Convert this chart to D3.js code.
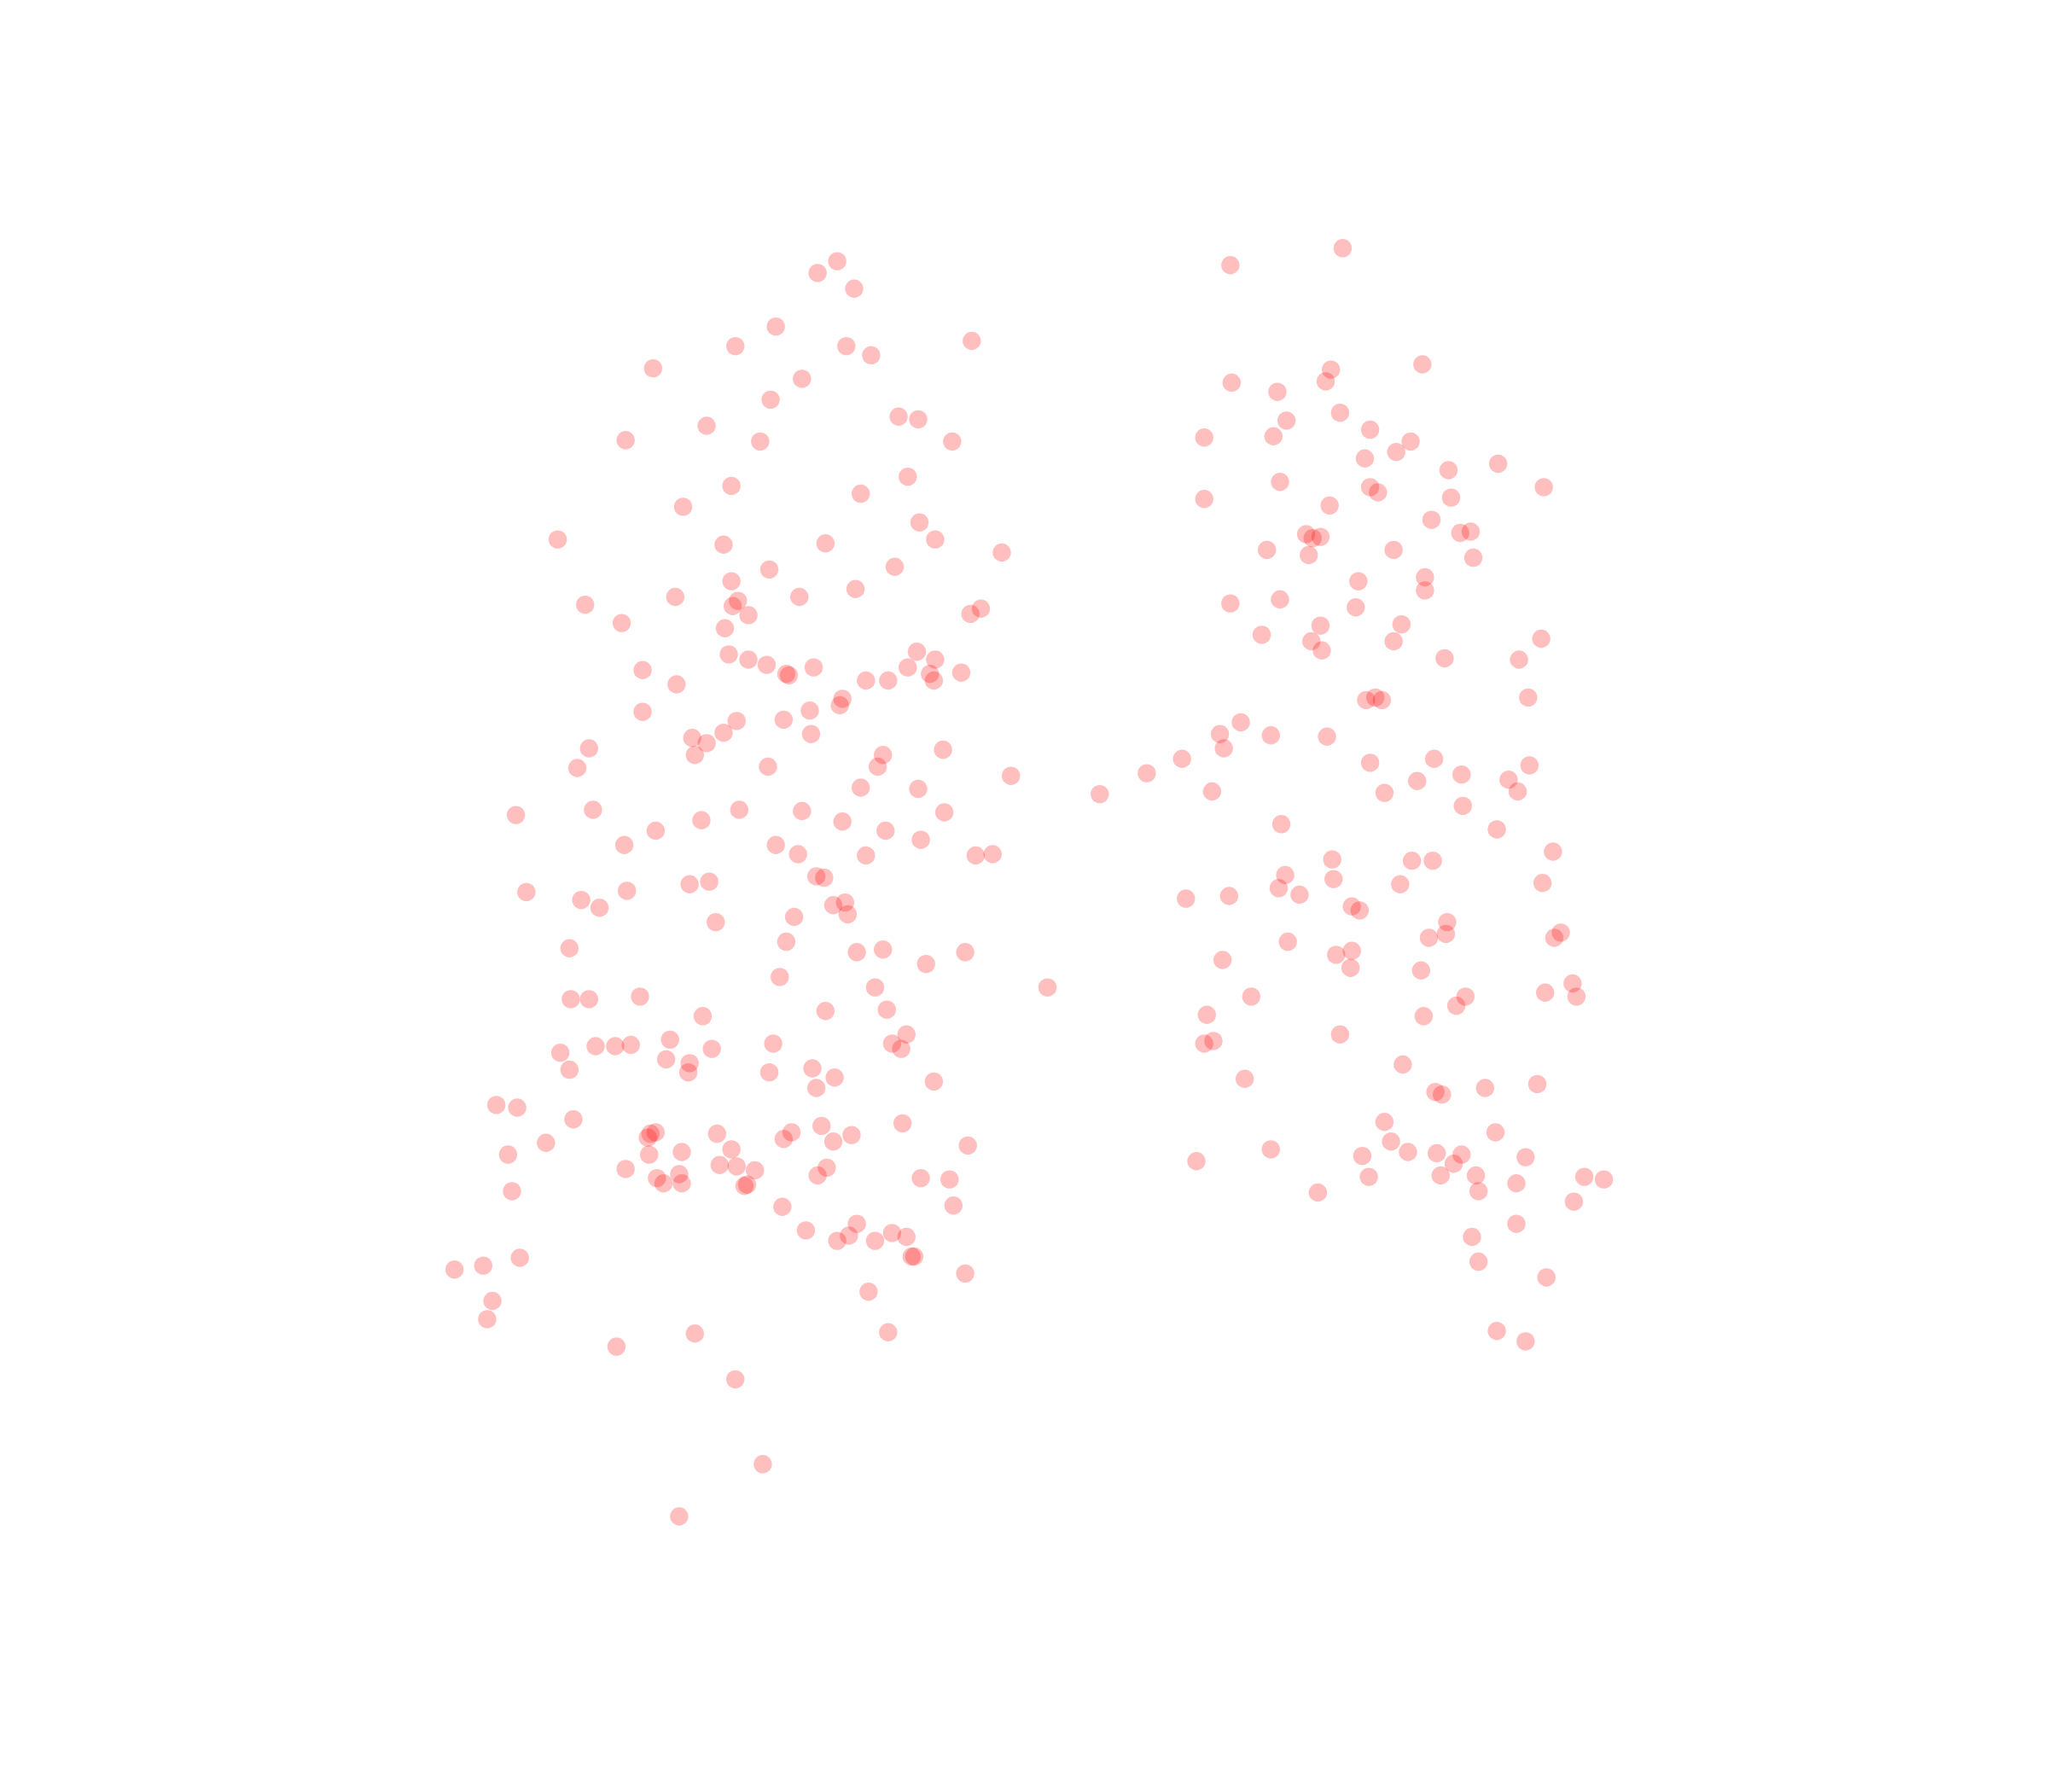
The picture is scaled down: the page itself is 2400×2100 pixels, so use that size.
<!DOCTYPE html>
<html><head><meta charset="utf-8">
<script src="https://cdn.jsdelivr.net/npm/d3@7"></script>
<style>html,body{margin:0;padding:0;background:#fff;}</style>
</head><body>
<svg id="chart" width="2400" height="2100"></svg>
<script>
// Left group: [x, y] values
const leftGroup = [
[641,200],[626,209],[654,221],[594,250],[563,265],[648,265],[667,272],[744,261],[500,282],[614,290],
[590,306],[688,319],[703,321],[541,326],[479,337],[582,338],[729,338],[695,365],[560,372],[659,378],
[523,388],[704,400],[427,413],[554,417],[632,416],[716,413],[767,423],[685,434],[589,436],[560,445],
[655,451],[517,457],[612,457],[448,463],[561,464],[565,460],[573,471],[743,470],[751,466],[476,477],
[555,481],[558,501],[573,505],[587,509],[702,499],[492,513],[602,516],[604,517],[623,511],[695,511],
[716,505],[712,516],[715,521],[736,515],[518,524],[663,521],[680,521],[645,535],[643,540],[492,545],
[620,544],[600,551],[564,552],[554,561],[621,562],[530,565],[541,569],[451,573],[532,578],[676,578],
[722,574],[442,588],[588,587],[672,587],[774,594],[659,603],[703,604],[395,624],[454,620],[566,620],
[614,621],[723,622],[537,628],[645,629],[502,636],[678,636],[478,647],[594,647],[705,643],[611,654],
[663,655],[747,655],[760,654],[625,671],[631,672],[528,677],[543,675],[403,683],[480,682],[445,689],
[459,695],[638,693],[647,691],[649,700],[608,702],[548,706],[602,721],[436,726],[656,729],[676,727],
[739,729],[709,738],[597,748],[670,756],[437,765],[451,765],[490,763],[632,774],[679,773],[538,778],
[694,792],[513,796],[456,801],[471,801],[483,800],[545,803],[592,799],[683,799],[690,803],[429,806],
[510,811],[528,814],[436,819],[527,821],[589,821],[622,818],[639,825],[715,828],[625,833],[380,846],
[396,848],[439,857],[629,862],[691,860],[498,868],[502,867],[496,871],[549,868],[606,867],[600,872],
[652,869],[418,875],[638,874],[741,877],[389,884],[497,884],[522,882],[560,880],[479,895],[551,892],
[564,893],[578,896],[633,894],[626,900],[503,902],[508,906],[520,899],[522,906],[572,907],[570,908],
[705,902],[727,903],[392,912],[730,923],[599,924],[656,937],[617,942],[683,944],[650,946],[641,950],
[670,950],[694,947],[698,962],[700,962],[398,963],[348,972],[370,969],[739,975],[377,996],[665,989],
[373,1010],[532,1021],[680,1020],[472,1031],[563,1056],[584,1121],[520,1161]
];
// Points between the groups
const bridgeGroup = [
[802,756],[842,608],[878,592],[905,581],[928,606],[908,688]
];
// Right group
const rightGroup = [
[1028,190],[942,203],[1019,283],[1089,279],[943,293],[1015,292],[978,300],[1026,316],[985,322],[922,335],
[975,334],[1049,329],[1080,338],[1069,346],[1045,351],[1147,355],[1109,360],[980,369],[1182,373],[922,382],
[1049,373],[1055,377],[1111,381],[1018,387],[1096,398],[1000,409],[1005,412],[1011,411],[1118,408],[1126,407],
[970,421],[1002,425],[1067,421],[1128,427],[1040,445],[1091,442],[1091,452],[942,462],[980,459],[1038,465],
[1073,478],[1011,479],[966,486],[1004,491],[1067,491],[1180,489],[1012,498],[1106,504],[1163,505],[1170,534],
[1046,536],[1053,534],[1058,536],[950,553],[934,562],[973,563],[1016,564],[937,573],[1098,581],[1049,584],
[1171,586],[1119,593],[1085,598],[1155,597],[1060,607],[1162,606],[1120,617],[981,631],[1146,635],[1189,652],
[1020,658],[1081,659],[1097,659],[984,670],[1021,673],[979,680],[1072,677],[1181,676],[941,686],[995,685],
[1035,694],[1041,697],[1108,706],[1094,718],[1107,715],[1195,714],[1190,718],[986,721],[1023,731],[1035,728],
[936,735],[1034,741],[1088,743],[1204,753],[1183,760],[1207,763],[958,763],[1122,763],[1115,770],[924,777],
[1090,778],[1026,792],[922,799],[929,797],[1074,815],[953,826],[1137,833],[1177,830],[1099,836],[1104,838],
[1060,859],[1145,867],[1065,874],[973,880],[1043,885],[1078,882],[1100,883],[1119,884],[1168,886],[916,889],
[1113,891],[1048,901],[1103,900],[1130,900],[1213,901],[1228,903],[1161,906],[1009,913],[1132,912],[1205,920],
[1161,937],[1127,947],[1132,966],[1184,978],[1146,1019],[1168,1027]
];

const W = 2400, H = 2100;
const x = d3.scaleLinear().domain([0, 1568]).range([0, W]);
const y = d3.scaleLinear().domain([0, 1372]).range([0, H]);

const all = leftGroup.concat(bridgeGroup, rightGroup);
d3.select("#chart").append("g")
  .selectAll("circle").data(all).join("circle")
  .attr("cx", d => x(d[0]))
  .attr("cy", d => y(d[1]))
  .attr("r", 10.7)
  .attr("fill", "red")
  .attr("fill-opacity", 0.25);
</script>
</body></html>
